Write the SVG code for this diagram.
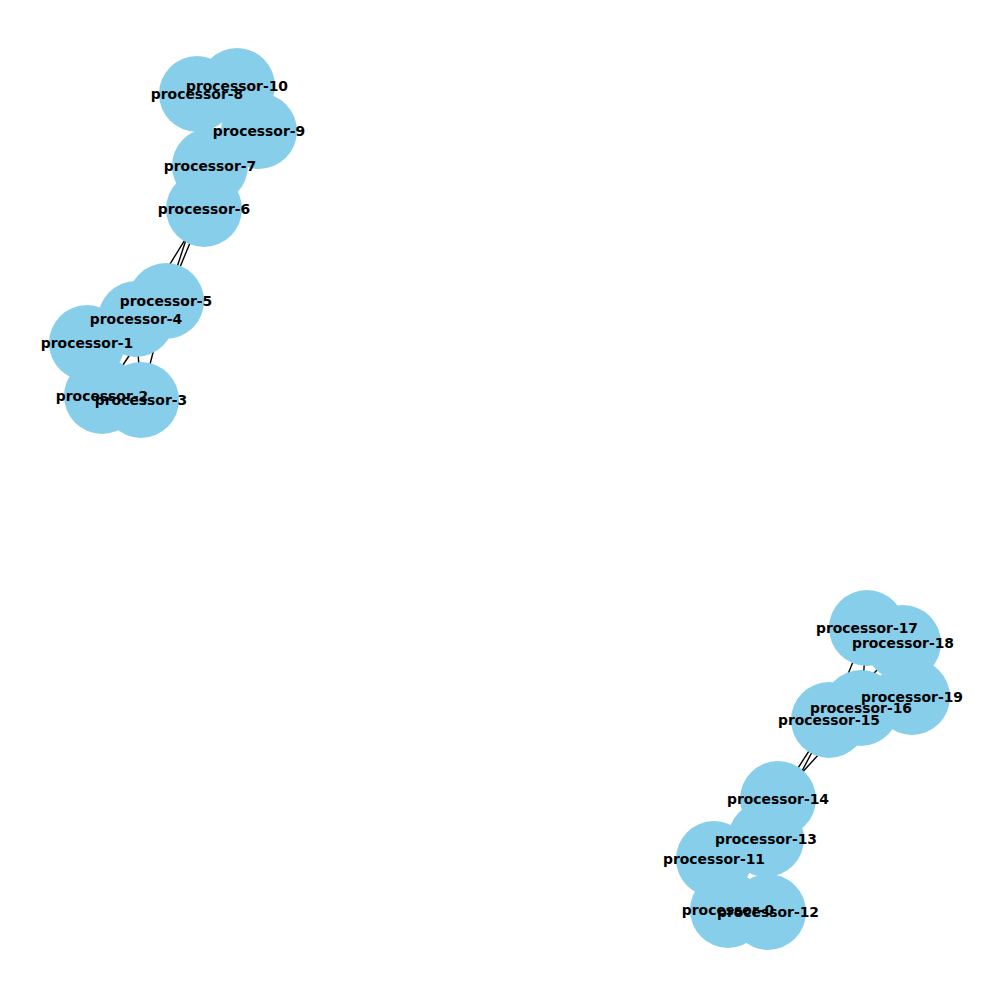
<svg xmlns="http://www.w3.org/2000/svg" width="1000" height="1000" viewBox="0 0 1000 1000">
<style>
.n{fill:#87CEEB}
.l{font-family:"DejaVu Sans",sans-serif;font-weight:bold;font-size:13.9px;fill:#000;text-anchor:middle;dominant-baseline:central}
.e{stroke:#000;stroke-width:1.4;fill:none}
</style>
<rect width="1000" height="1000" fill="#fff"/>
<g id="edges">
<line class="e" x1="204" y1="209" x2="166" y2="301"/>
<line class="e" x1="204" y1="209" x2="136" y2="319"/>
<line class="e" x1="210" y1="166" x2="166" y2="301"/>
<line class="e" x1="166" y1="301" x2="102" y2="396"/>
<line class="e" x1="136" y1="319" x2="141" y2="400"/>
<line class="e" x1="166" y1="301" x2="141" y2="400"/>
<line class="e" x1="867" y1="628" x2="829" y2="720"/>
<line class="e" x1="867" y1="628" x2="861" y2="708"/>
<line class="e" x1="903" y1="643" x2="829" y2="720"/>
<line class="e" x1="829" y1="720" x2="766" y2="839"/>
<line class="e" x1="829" y1="720" x2="778" y2="799"/>
<line class="e" x1="861" y1="708" x2="778" y2="799"/>
</g>
<g id="processor-0"><circle class="n" cx="728" cy="910" r="38"/></g>
<g id="processor-1"><circle class="n" cx="87" cy="343" r="38"/></g>
<g id="processor-2"><circle class="n" cx="102" cy="396" r="38"/></g>
<g id="processor-3"><circle class="n" cx="141" cy="400" r="38"/></g>
<g id="processor-4"><circle class="n" cx="136" cy="319" r="38"/></g>
<g id="processor-5"><circle class="n" cx="166" cy="301" r="38"/></g>
<g id="processor-6"><circle class="n" cx="204" cy="209" r="38"/></g>
<g id="processor-7"><circle class="n" cx="210" cy="166" r="38"/></g>
<g id="processor-8"><circle class="n" cx="197" cy="94" r="38"/></g>
<g id="processor-9"><circle class="n" cx="259" cy="131" r="38"/></g>
<g id="processor-10"><circle class="n" cx="237" cy="86" r="38"/></g>
<g id="processor-11"><circle class="n" cx="714" cy="859" r="38"/></g>
<g id="processor-12"><circle class="n" cx="768" cy="912" r="38"/></g>
<g id="processor-13"><circle class="n" cx="766" cy="839" r="38"/></g>
<g id="processor-14"><circle class="n" cx="778" cy="799" r="38"/></g>
<g id="processor-15"><circle class="n" cx="829" cy="720" r="38"/></g>
<g id="processor-16"><circle class="n" cx="861" cy="708" r="38"/></g>
<g id="processor-17"><circle class="n" cx="867" cy="628" r="38"/></g>
<g id="processor-18"><circle class="n" cx="903" cy="643" r="38"/></g>
<g id="processor-19"><circle class="n" cx="912" cy="697" r="38"/></g>
<g id="labels">
<text class="l" x="728" y="910">processor-0</text>
<text class="l" x="87" y="343">processor-1</text>
<text class="l" x="102" y="396">processor-2</text>
<text class="l" x="141" y="400">processor-3</text>
<text class="l" x="136" y="319">processor-4</text>
<text class="l" x="166" y="301">processor-5</text>
<text class="l" x="204" y="209">processor-6</text>
<text class="l" x="210" y="166">processor-7</text>
<text class="l" x="197" y="94">processor-8</text>
<text class="l" x="259" y="131">processor-9</text>
<text class="l" x="237" y="86">processor-10</text>
<text class="l" x="714" y="859">processor-11</text>
<text class="l" x="768" y="912">processor-12</text>
<text class="l" x="766" y="839">processor-13</text>
<text class="l" x="778" y="799">processor-14</text>
<text class="l" x="829" y="720">processor-15</text>
<text class="l" x="861" y="708">processor-16</text>
<text class="l" x="867" y="628">processor-17</text>
<text class="l" x="903" y="643">processor-18</text>
<text class="l" x="912" y="697">processor-19</text>
</g>
</svg>
